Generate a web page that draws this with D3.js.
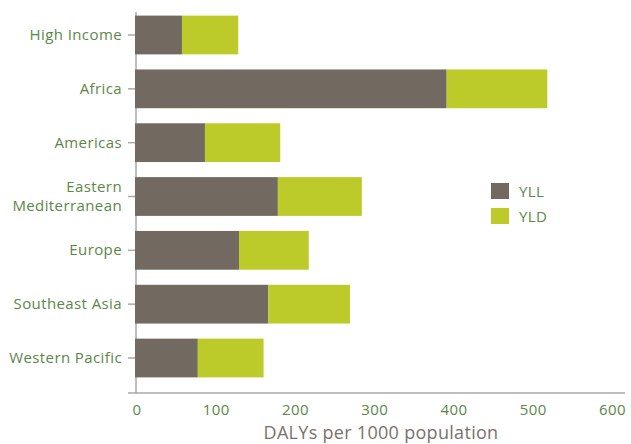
<!DOCTYPE html>
<html>
<head>
<meta charset="utf-8">
<style>
body { margin:0; background:#fff; }
text { font-family: "Open Sans", sans-serif; }
</style>
</head>
<body>
<div id="chart"></div>
<script src="https://d3js.org/d3.v7.min.js"></script>
<script>

var regions = ["High Income", "Africa", "Americas", "Eastern Mediterranean", "Europe", "Southeast Asia", "Western Pacific"];
var yll = [58, 392, 87, 179, 130, 167, 78];
var yld = [71, 127, 95, 106, 88, 103, 83];
var series = ["YLL", "YLD"];
var colors = ["#726961", "#bdcb2a"];
var xTicks = [0, 100, 200, 300, 400, 500, 600];

var W = 631, H = 444;
var green = "#5b8748";

var svg = d3.select("#chart").append("svg")
    .attr("width", W)
    .attr("height", H);

var x = d3.scaleLinear().domain([0, 600]).range([136, 611.5]);
var y = d3.scaleBand().domain(regions).range([0, 393])
    .paddingInner(0.28).paddingOuter(0.29);

var rows = regions.map(function(r, i) { return {region: r, YLL: yll[i], YLD: yld[i]}; });
var stack = d3.stack().keys(series)(rows);

// axes lines
svg.append("line")
   .attr("x1", 136).attr("x2", 136)
   .attr("y1", y.range()[0] + 12).attr("y2", 393)
   .style("stroke", "#a9a9a9").style("stroke-width", 1.5);
svg.append("line")
   .attr("x1", 128).attr("x2", 625)
   .attr("y1", 393).attr("y2", 393)
   .style("stroke", "#a9a9a9").style("stroke-width", 1.5);

// y ticks
regions.forEach(function(r) {
  var cy = y(r) + y.bandwidth() / 2;
  svg.append("line")
     .attr("x1", 128).attr("x2", 136)
     .attr("y1", cy).attr("y2", cy)
     .style("stroke", "#a9a9a9").style("stroke-width", 1.5);
  var lines = r == "Eastern Mediterranean" ? ["Eastern", "Mediterranean"] : [r];
  lines.forEach(function(l, j) {
    svg.append("text")
       .text(l)
       .attr("x", 122)
       .attr("y", cy + 5 + (j - (lines.length - 1) / 2) * 19)
       .style("text-anchor", "end")
       .style("font-size", "15px")
       .style("letter-spacing", "0.4px")
       .style("fill", green);
  });
});

// bars
stack.forEach(function(s, k) {
  svg.selectAll(".bar" + k)
     .data(s)
     .enter().append("rect")
     .attr("x", function(d) { return x(d[0]) - (k == 0 ? 1 : 0); })
     .attr("width", function(d) { return x(d[1]) - x(d[0]) + (k == 0 ? 1 : 0); })
     .attr("y", function(d) { return y(d.data.region); })
     .attr("height", y.bandwidth())
     .style("fill", colors[k]);
});

// x tick labels
xTicks.forEach(function(t) {
  svg.append("text")
     .text(t)
     .attr("x", x(t) + 1)
     .attr("y", 415)
     .style("text-anchor", "middle")
     .style("font-size", "15px")
     .style("letter-spacing", "0.4px")
     .style("fill", green);
});

svg.append("text")
   .text("DALYs per 1000 population")
   .attr("x", 381)
   .attr("y", 439)
   .style("text-anchor", "middle")
   .style("font-size", "18px")
   .style("letter-spacing", "0.3px")
   .style("fill", "#7a716b");

// legend
series.forEach(function(s, i) {
  svg.append("rect")
     .attr("x", 491).attr("y", 183 + i * 25)
     .attr("width", 18).attr("height", 16)
     .style("fill", colors[i]);
  svg.append("text")
     .text(s)
     .attr("x", 519).attr("y", 197 + i * 25)
     .style("font-size", "15px")
     .style("letter-spacing", "0.4px")
     .style("fill", green);
});

</script>
</body>
</html>
